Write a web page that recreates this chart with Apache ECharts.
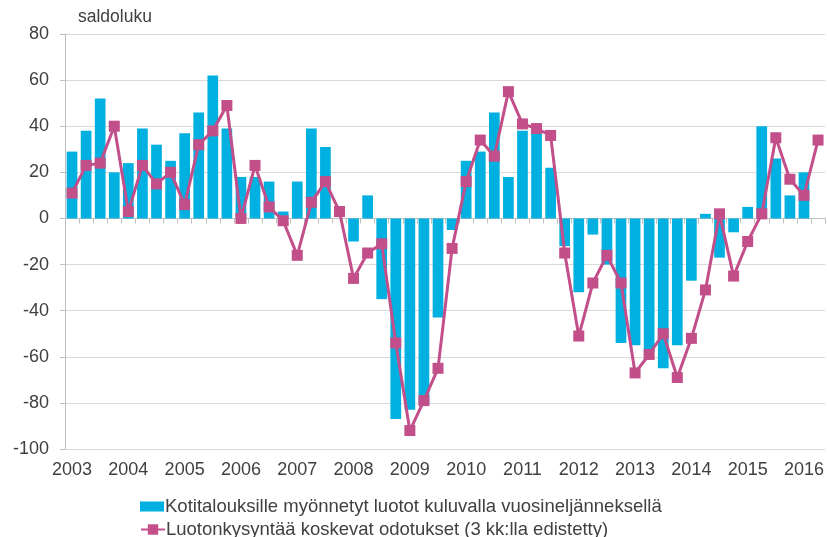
<!DOCTYPE html>
<html>
<head>
<meta charset="utf-8">
<script src="https://cdn.jsdelivr.net/npm/echarts@6/dist/echarts.min.js"></script>
<style>
  html, body { margin: 0; padding: 0; background: #fff; }
  #chart { width: 827px; height: 537px; }
</style>
</head>
<body>
<div id="chart"></div>
<script>
// quarters 2003Q1 .. 2016Q2
const years = [2003, 2004, 2005, 2006, 2007, 2008, 2009, 2010, 2011, 2012, 2013, 2014, 2015, 2016]
const quarters = []
years.forEach((y) => {
  for (let q = 1; q <= 4; q += 1) {
    if (y === 2016 && q > 2) break
    quarters.push(`${y}Q${q}`)
  }
})

// Kotitalouksille myönnetyt luotot (bars)
const loans = [
  29, 38, 52, 20, 24, 39, 32, 25, 37, 46, 62, 39,
  18, 18, 16, 3, 16, 39, 31, 0, -10, 10, -35, -87,
  -83, -80, -43, -5, 25, 29, 46, 18, 38, 38, 22, -12,
  -32, -7, -20, -54, -55, -58, -65, -55, -27, 2, -17, -6,
  5, 40, 26, 10, 20, null,
]

// Luotonkysyntää koskevat odotukset (line)
const expectations = [
  11, 23, 24, 40, 3, 23, 15, 20, 6, 32, 38, 49,
  0, 23, 5, -1, -16, 7, 16, 3, -26, -15, -11, -54,
  -92, -79, -65, -13, 16, 34, 27, 55, 41, 39, 36, -15,
  -51, -28, -16, -28, -67, -59, -50, -69, -52, -31, 2, -25,
  -10, 2, 35, 17, 10, 34,
]

const seriesNames = [
  'Kotitalouksille myönnetyt luotot kuluvalla vuosineljänneksellä',
  'Luotonkysyntää koskevat odotukset (3 kk:lla edistetty)',
]

const textColor = '#404040'
const gridColor = '#d9d9d9'
const font = 'Liberation Sans, Arial, sans-serif'

// one legend per row, the second one runs off the bottom like the original
const legendRow = (name, top, h, icon) => ({
  left: 140,
  top,
  icon,
  itemWidth: 24,
  itemHeight: h,
  padding: 0,
  textStyle: { fontSize: 18.5, color: textColor, padding: [0, 0, 0, -4], fontFamily: font },
  data: [name],
})

const chart = echarts.init(document.getElementById('chart'))
chart.setOption({
  animation: false,
  textStyle: { fontFamily: font },
  title: {
    text: 'saldoluku',
    left: 78,
    top: 8,
    padding: 0,
    textStyle: { fontSize: 17.5, fontWeight: 'normal', color: textColor, fontFamily: font },
  },
  grid: { left: 65, right: 1, top: 34, bottom: 88, containLabel: false },
  legend: [
    legendRow(seriesNames[0], 497, 10, 'rect'),
    legendRow(seriesNames[1], 520, 13),
  ],
  xAxis: [
    {
      type: 'category',
      data: quarters,
      position: 'bottom',
      axisLine: { onZero: true, lineStyle: { color: '#bfbfbf', width: 1 } },
      axisTick: { show: true, interval: 0, length: 5, lineStyle: { color: '#bfbfbf' } },
      axisLabel: { show: false },
      splitLine: { show: false },
    },
    {
      type: 'category',
      data: quarters,
      position: 'bottom',
      axisLine: { show: false, onZero: false },
      axisTick: { show: false },
      axisLabel: {
        interval: 3,
        margin: 12,
        fontSize: 18,
        color: textColor,
        formatter: (v) => v.slice(0, 4),
      },
    },
  ],
  yAxis: {
    type: 'value',
    min: -100,
    max: 80,
    interval: 20,
    axisLine: { show: true, lineStyle: { color: '#bfbfbf' } },
    axisTick: { show: true, length: 5, lineStyle: { color: '#bfbfbf' } },
    axisLabel: { fontSize: 18, color: textColor, margin: 16 },
    splitLine: { lineStyle: { color: gridColor, width: 1 } },
  },
  series: [
    {
      name: seriesNames[0],
      type: 'bar',
      xAxisIndex: 0,
      data: loans,
      barWidth: '76%',
      itemStyle: { color: '#00b0e0' },
    },
    {
      name: seriesNames[1],
      type: 'line',
      xAxisIndex: 0,
      data: expectations,
      symbol: 'rect',
      symbolSize: 11,
      showSymbol: true,
      showAllSymbol: true,
      lineStyle: { color: '#c24f8a', width: 3 },
      itemStyle: { color: '#c24f8a' },
      z: 3,
    },
  ],
})
</script>
</body>
</html>
